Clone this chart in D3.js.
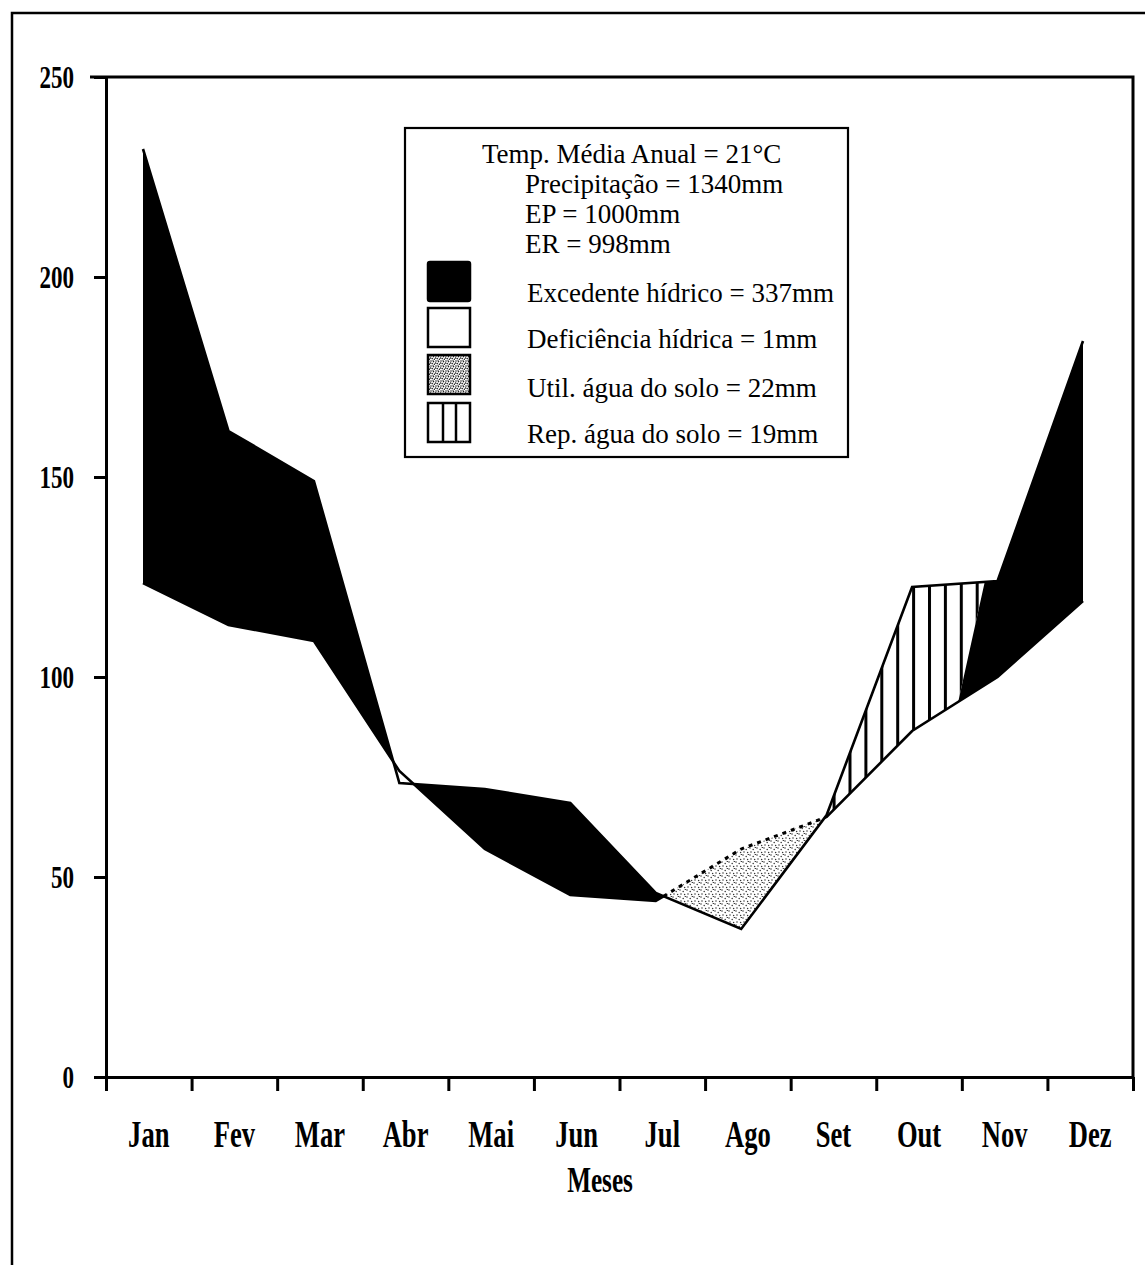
<!DOCTYPE html>
<html>
<head>
<meta charset="utf-8">
<script src="https://cdn.jsdelivr.net/npm/d3@7"></script>
<style>
  html, body { margin: 0; padding: 0; background: #fff; }
  svg { display: block; }
</style>
</head>
<body>
<svg id="grafico" width="1145" height="1265"></svg>
<script>
// Balanço hídrico mensal (mm)
const meses = ["Jan", "Fev", "Mar", "Abr", "Mai", "Jun", "Jul", "Ago", "Set", "Out", "Nov", "Dez"];
const precipitacao   = [232, 161.5, 149, 73.5, 72, 68.5, 46, 37, 65.5, 122.5, 124, 184];
const evapoPotencial = [123.5, 113, 109, 76.5, 57, 45.5, 44, 57, 65, 86.5, 100, 119];
const ticksY = [0, 50, 100, 150, 200, 250];

// o solo volta à capacidade de campo em novembro (mês fracionário, 0 = Jan)
const fimReposicao = { ep: 9.54, p: 9.85 };
// meses com retirada de água do solo
const mesesUtilizacao = ["Ago"];

const resumo = [
  { texto: "Temp. Média Anual = 21°C", recuo: 0 },
  { texto: "Precipitação = 1340mm", recuo: 1 },
  { texto: "EP = 1000mm", recuo: 1 },
  { texto: "ER = 998mm", recuo: 1 }
];
const legendaNomes   = ["Excedente hídrico", "Deficiência hídrica", "Util. água do solo", "Rep. água do solo"];
const legendaValores = ["337mm", "1mm", "22mm", "19mm"];
const legendaTipos   = ["excedente", "deficiencia", "utilizacao", "reposicao"];

const svg = d3.select("#grafico");
const esq = 106, dir = 1133, topo = 77, base = 1077;

const y = d3.scaleLinear().domain([0, 250]).range([base, topo]);
const xEixo = d3.scaleLinear().domain([0, 12]).range([esq, dir]);
const xBanda = d3.scaleBand().domain(meses).range([esq, dir]);
const x = d3.scaleLinear().domain([0, 11]).range([143, 1083]);

// ---- padrões de preenchimento
const defs = svg.append("defs");
const hach = defs.append("pattern").attr("id", "hachura")
  .attr("patternUnits", "userSpaceOnUse").attr("width", 15.9).attr("height", 10)
  .attr("x", 848.5).attr("y", 0);
hach.append("rect").attr("width", 15.9).attr("height", 10).attr("fill", "#fff");
hach.append("rect").attr("width", 3).attr("height", 10).attr("fill", "#000");

function pontilhado(id, tam, pontos, raio, cor) {
  const p = defs.append("pattern").attr("id", id)
    .attr("patternUnits", "userSpaceOnUse").attr("width", tam).attr("height", tam);
  p.append("rect").attr("width", tam).attr("height", tam).attr("fill", "#fff");
  p.selectAll("circle").data(pontos).join("circle")
    .attr("cx", d => d[0]).attr("cy", d => d[1]).attr("r", raio).attr("fill", cor);
}
pontilhado("pontos", 7, [[1, 1], [4.2, 2.4], [2, 5], [5.6, 5.6], [6.3, 0.3]], 0.75, "#333");
pontilhado("pontosLeg", 5, [[1, 1], [3.5, 1.6], [2.2, 3.6], [4.4, 4.2], [0.5, 3], [3, 0]], 0.8, "#222");

// ---- moldura externa
svg.append("path").attr("d", "M12,1265 L12,13 L1145,13")
  .attr("fill", "none").attr("stroke", "#000").attr("stroke-width", 2.5);

// ---- curvas e áreas
const P = precipitacao, E = evapoPotencial;
function interp(arr, t) {
  const i = Math.max(0, Math.min(Math.floor(t), arr.length - 2));
  const f = t - i;
  return arr[i] * (1 - f) + arr[i + 1] * f;
}
function amostras(a, b) {
  const meio = d3.range(Math.ceil(a), Math.floor(b) + 1).filter(t => t > a && t < b);
  return [a, ...meio, b];
}
// polígono entre P (de pa a pb) e EP (de ea a eb)
function faixa(pa, pb, ea, eb) {
  const sup = amostras(pa, pb).map(t => [x(t), y(interp(P, t))]);
  const inf = amostras(ea, eb).reverse().map(t => [x(t), y(interp(E, t))]);
  return d3.line()(sup.concat(inf)) + "Z";
}

// cruzamentos P = EP
const cortes = [0];
for (let i = 0; i < 11; i++) {
  const d0 = P[i] - E[i], d1 = P[i + 1] - E[i + 1];
  if (d0 * d1 < 0) cortes.push(i + d0 / (d0 - d1));
}
cortes.push(11);
const idxUtil = mesesUtilizacao.map(m => meses.indexOf(m));

const areas = svg.append("g");
const trechosUtil = [];
for (let k = 0; k < cortes.length - 1; k++) {
  const a = cortes[k], b = cortes[k + 1], m = (a + b) / 2;
  if (interp(P, m) > interp(E, m)) {
    if (fimReposicao.p > a && fimReposicao.p < b) {
      areas.append("path").attr("d", faixa(a, fimReposicao.p, a, fimReposicao.ep))
        .attr("fill", "url(#hachura)");
      areas.append("path").attr("d", faixa(fimReposicao.p, b, fimReposicao.ep, b))
        .attr("fill", "#000");
    } else {
      areas.append("path").attr("d", faixa(a, b, a, b)).attr("fill", "#000");
    }
  } else {
    const util = idxUtil.some(i => i >= a && i <= b);
    if (util) trechosUtil.push([a, b]);
    areas.append("path").attr("d", faixa(a, b, a, b))
      .attr("fill", util ? "url(#pontos)" : "#fff");
  }
}

const linha = arr => d3.line().x(t => x(t)).y(t => y(interp(arr, t)));
svg.append("path").attr("d", linha(P)(amostras(0, 11)))
  .attr("fill", "none").attr("stroke", "#000").attr("stroke-width", 2.6);
// EP: contínua, pontilhada no trecho de utilização
let ini = 0;
trechosUtil.forEach(([a, b]) => {
  svg.append("path").attr("d", linha(E)(amostras(ini, a)))
    .attr("fill", "none").attr("stroke", "#000").attr("stroke-width", 2.6);
  svg.append("path").attr("d", linha(E)(amostras(a, b)))
    .attr("fill", "none").attr("stroke", "#000").attr("stroke-width", 3)
    .attr("stroke-dasharray", "4,5");
  ini = b;
});
svg.append("path").attr("d", linha(E)(amostras(ini, 11)))
  .attr("fill", "none").attr("stroke", "#000").attr("stroke-width", 2.6);

// ---- eixos e moldura do gráfico
const fonteEixo = "'Liberation Serif', 'Times New Roman', serif";
svg.append("path").attr("d", `M90,${topo} L${dir},${topo} L${dir},${base}`)
  .attr("fill", "none").attr("stroke", "#000").attr("stroke-width", 3);

const eixoY = svg.append("g").attr("transform", `translate(${esq},0)`)
  .call(d3.axisLeft(y).tickValues(ticksY).tickSize(12).tickSizeOuter(0));
eixoY.select(".domain").attr("stroke-width", 3);
eixoY.selectAll(".tick line").attr("stroke-width", 3);
eixoY.selectAll(".tick text")
  .attr("x", null).attr("dy", "0.34em")
  .attr("transform", "translate(-32,0) scale(0.72,1)")
  .attr("text-anchor", "end")
  .style("font-family", fonteEixo).style("font-weight", "bold").style("font-size", "32px");

const eixoX = svg.append("g").attr("transform", `translate(0,${base})`)
  .call(d3.axisBottom(xEixo).tickValues(d3.range(13)).tickFormat("").tickSize(14).tickSizeOuter(0));
eixoX.select(".domain").attr("stroke-width", 3);
eixoX.selectAll(".tick line").attr("stroke-width", 3);

svg.append("g").selectAll("text").data(meses).join("text")
  .attr("transform", d => `translate(${xBanda(d) + xBanda.bandwidth() / 2},1147) scale(0.7,1)`)
  .attr("text-anchor", "middle")
  .style("font-family", fonteEixo).style("font-weight", "bold").style("font-size", "38px")
  .text(d => d);

svg.append("text")
  .attr("transform", "translate(600,1192) scale(0.7,1)")
  .attr("text-anchor", "middle")
  .style("font-family", fonteEixo).style("font-weight", "bold").style("font-size", "36px")
  .text("Meses");

// ---- legenda
const leg = svg.append("g");
leg.append("rect").attr("x", 405).attr("y", 128).attr("width", 443).attr("height", 329)
  .attr("fill", "#fff").attr("stroke", "#000").attr("stroke-width", 2.2);
const fonteLeg = "'Liberation Serif', 'Times New Roman', serif";
leg.selectAll("text.resumo").data(resumo).join("text").attr("class", "resumo")
  .attr("x", d => d.recuo ? 525 : 482).attr("y", (d, i) => 163 + i * 30)
  .style("font-family", fonteLeg).style("font-size", "27px")
  .text(d => d.texto);

const itens = legendaNomes.map((n, i) => ({ nome: n, valor: legendaValores[i], tipo: legendaTipos[i] }));
const yItem = [302, 348, 397, 443];
const ySw = [262, 308, 355, 403];
leg.selectAll("text.item").data(itens).join("text").attr("class", "item")
  .attr("x", 527).attr("y", (d, i) => yItem[i])
  .style("font-family", fonteLeg).style("font-size", "27px")
  .text(d => `${d.nome} = ${d.valor}`);

itens.forEach((d, i) => {
  const r = leg.append("rect").attr("x", 428).attr("y", ySw[i]).attr("width", 42).attr("height", 39)
    .attr("stroke", "#000").attr("stroke-width", 2.5);
  if (d.tipo === "excedente") r.attr("fill", "#000").attr("rx", 2);
  else if (d.tipo === "deficiencia") r.attr("fill", "#fff");
  else if (d.tipo === "utilizacao") r.attr("fill", "url(#pontosLeg)");
  else {
    r.attr("fill", "#fff");
    [443, 456].forEach(lx => leg.append("line")
      .attr("x1", lx).attr("x2", lx).attr("y1", ySw[i]).attr("y2", ySw[i] + 39)
      .attr("stroke", "#000").attr("stroke-width", 2.5));
  }
});
</script>
</body>
</html>
